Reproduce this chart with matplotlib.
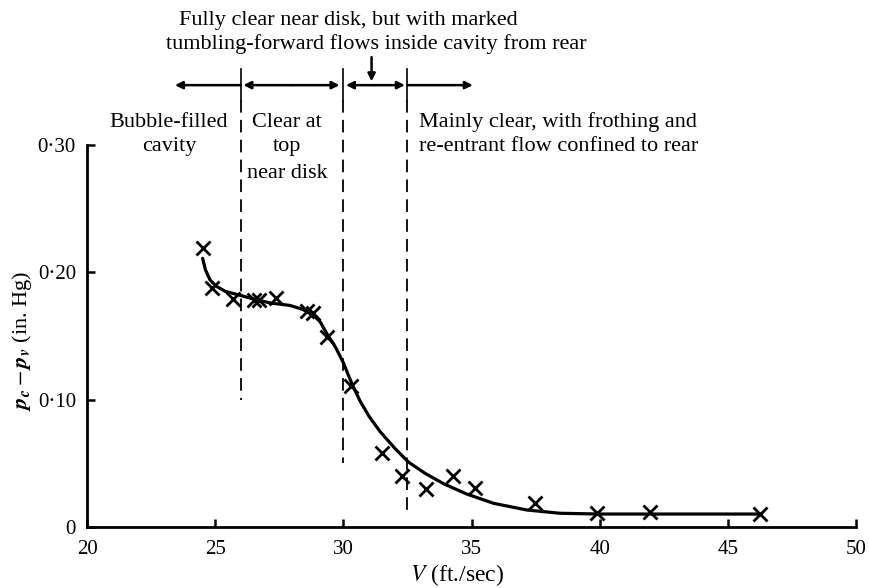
import matplotlib
matplotlib.use("Agg")
import matplotlib.pyplot as plt

# measured points
v_pts = [24.51, 24.89, 25.71, 26.52, 26.72, 27.36, 28.57, 28.80, 29.35, 30.28,
         31.50, 32.28, 33.21, 34.29, 35.14, 37.48, 39.91, 41.97, 46.26]
p_pts = [0.219, 0.188, 0.179, 0.178, 0.178, 0.180, 0.170, 0.168, 0.149, 0.111,
         0.058, 0.040, 0.030, 0.040, 0.031, 0.019, 0.011, 0.0115, 0.010]

# fitted curve
v_curve = [24.51, 24.62, 24.80, 25.05, 25.40, 25.97, 26.50, 27.14, 27.92, 28.40,
           28.83, 29.10, 29.35, 29.70, 30.00, 30.20, 30.39, 30.65, 31.00, 31.43,
           32.00, 32.54, 33.20, 33.91, 34.80, 35.86, 37.15, 38.45, 40.00, 46.20]
p_curve = [0.211, 0.202, 0.194, 0.189, 0.185, 0.182, 0.179, 0.176, 0.174, 0.171,
           0.1665, 0.161, 0.152, 0.141, 0.129, 0.119, 0.110, 0.099, 0.087, 0.075,
           0.062, 0.051, 0.042, 0.034, 0.026, 0.0186, 0.0134, 0.0108, 0.0102, 0.0102]

# regime boundaries (ft/sec) and where each dashed line ends (in. Hg)
bounds = [26.0, 30.0, 32.5]
bound_ends = [0.10, 0.05, 0.008]

x_ticks = [20, 25, 30, 35, 40, 45, 50]
y_ticks = [0, 0.10, 0.20, 0.30]
y_tick_labels = ["0", "0·10", "0·20", "0·30"]

plt.rcParams['font.family'] = ['Liberation Serif', 'DejaVu Serif']
plt.rcParams['mathtext.fontset'] = 'stix'

fig = plt.figure(figsize=(8.7, 5.88), dpi=100)
ax = fig.add_axes([0.1, 0.1037, 0.884, 0.6497])

ax.plot(v_curve, p_curve, color='black', lw=2.3, solid_capstyle='round',
        solid_joinstyle='round')
ax.plot(v_pts, p_pts, linestyle='none', marker='x', color='black',
        markersize=10, markeredgewidth=2.0)

top_line = 0.347
for b, e in zip(bounds, bound_ends):
    ax.plot([b, b], [top_line + 0.013, top_line - 0.012], color='black', lw=1.2,
            clip_on=False)
    ax.plot([b, b], [top_line - 0.012, e], color='black', lw=1.3,
            dashes=(7, 4), clip_on=False)

arrow_kw = dict(arrowstyle='-|>', color='black', lw=1.8, mutation_scale=11,
                shrinkA=0, shrinkB=0)
def arr(x0, x1):
    ax.annotate('', xy=(x1, top_line), xytext=(x0, top_line),
                arrowprops=arrow_kw, annotation_clip=False)

arr(26.0, 23.43)
arr(28.0, 26.1)
arr(28.0, 29.85)
arr(31.2, 30.1)
arr(31.2, 32.4)
arr(32.5, 35.05)
ax.annotate('', xy=(31.1, top_line + 0.003), xytext=(31.1, top_line + 0.022),
            arrowprops=dict(arrowstyle='-|>', color='black', lw=1.8,
                            mutation_scale=11, shrinkA=0, shrinkB=0),
            annotation_clip=False)

fs = 16
ax.text(23.6, 0.398, "Fully clear near disk, but with marked", ha='left',
        va='center', fontsize=fs, clip_on=False)
ax.text(23.1, 0.379, "tumbling-forward flows inside cavity from rear", ha='left',
        va='center', fontsize=fs, clip_on=False)
ax.text(23.2, 0.318, "Bubble-filled", ha='center', va='center', fontsize=fs)
ax.text(23.2, 0.2985, "cavity", ha='center', va='center', fontsize=fs)
ax.text(27.8, 0.318, "Clear at", ha='center', va='center', fontsize=fs)
ax.text(27.8, 0.2985, "top", ha='center', va='center', fontsize=fs)
ax.text(27.8, 0.2775, "near disk", ha='center', va='center', fontsize=fs)
ax.text(32.95, 0.318, "Mainly clear, with frothing and", ha='left', va='center',
        fontsize=fs)
ax.text(32.95, 0.2985, "re-entrant flow confined to rear", ha='left', va='center',
        fontsize=fs)

ax.set_xlim(20, 50)
ax.set_ylim(0, 0.30)
ax.set_xticks(x_ticks)
ax.set_xticklabels([str(t) for t in x_ticks], fontsize=15)
ax.set_yticks(y_ticks)
ax.set_yticklabels(y_tick_labels, fontsize=15)
ax.tick_params(axis='both', direction='in', length=6, width=1.8, pad=9)
ax.tick_params(axis='y', pad=8)
for s in ['top', 'right']:
    ax.spines[s].set_visible(False)
for s in ['left', 'bottom']:
    ax.spines[s].set_linewidth(2.0)

fig.text(0.025, 0.42, r"$\mathbfit{p}_{\mathbfit{c}}-\mathbfit{p}_{\mathbfit{v}}$ (in. Hg)",
         rotation=90, ha='center', va='center', fontsize=16)
fig.text(0.525, 0.022, r"$V$ (ft./sec)", ha='center', va='center', fontsize=17)

fig.savefig("out.png", dpi=100)
